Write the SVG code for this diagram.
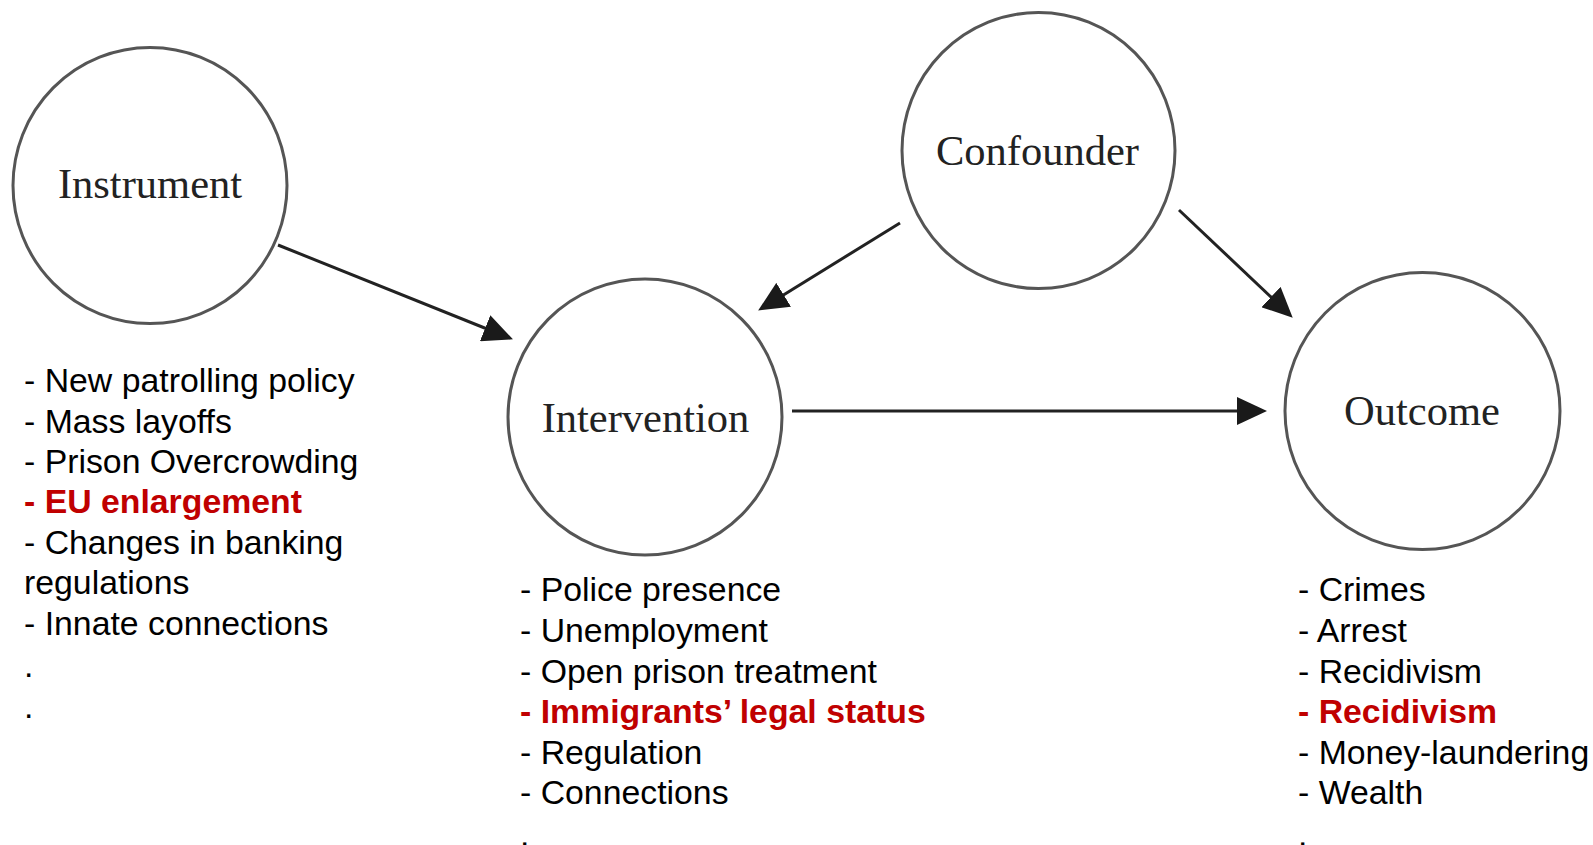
<svg xmlns="http://www.w3.org/2000/svg" width="1593" height="845" viewBox="0 0 1593 845">
<style>
.node{fill:#fff;stroke:#555;stroke-width:3}
.lbl{font-family:"Liberation Serif","Times New Roman",serif;font-size:42.5px;fill:#222;text-anchor:middle}
.edge{stroke:#222;stroke-width:3;fill:none;marker-end:url(#ah)}
.list{font-family:"Liberation Sans",Arial,sans-serif;font-size:33.8px;fill:#000}
.red{fill:#C00000;font-weight:bold}
</style>
<defs>
<marker id="ah" viewBox="0 0 30 28" refX="25" refY="14" markerWidth="30" markerHeight="28" markerUnits="userSpaceOnUse" orient="auto">
<path d="M0,0 L30,14 L0,28 z" fill="#1a1a1a"/>
</marker>
</defs>
<rect width="1593" height="845" fill="#fff"/>
<g id="connectors">
<line class="edge" x1="278" y1="245" x2="508.3" y2="337.5"/>
<line class="edge" x1="900" y1="223" x2="762.4" y2="307.9"/>
<line class="edge" x1="1179" y1="210" x2="1289.1" y2="314.2"/>
<line class="edge" x1="792" y1="411" x2="1262" y2="411"/>
</g>
<g id="instrument">
<ellipse class="node" cx="150" cy="185.5" rx="137" ry="138"/>
<text class="lbl" x="150" y="198">Instrument</text>
</g>
<g id="confounder">
<ellipse class="node" cx="1038.5" cy="150.5" rx="136.5" ry="138"/>
<text class="lbl" x="1037.5" y="165">Confounder</text>
</g>
<g id="intervention">
<ellipse class="node" cx="645" cy="417" rx="137" ry="138"/>
<text class="lbl" x="645.5" y="432">Intervention</text>
</g>
<g id="outcome">
<ellipse class="node" cx="1422.5" cy="411" rx="137.5" ry="138.5"/>
<text class="lbl" x="1422" y="425">Outcome</text>
</g>
<g id="instrument-list" class="list">
<text x="24" y="392">- New patrolling policy</text>
<text x="24" y="433">- Mass layoffs</text>
<text x="24" y="473">- Prison Overcrowding</text>
<text x="24" y="513" class="red">- EU enlargement</text>
<text x="24" y="554">- Changes in banking</text>
<text x="24" y="594">regulations</text>
<text x="24" y="635">- Innate connections</text>
<text x="24" y="677">.</text>
<text x="24" y="718">.</text>
</g>
<g id="intervention-list" class="list">
<text x="520" y="601">- Police presence</text>
<text x="520" y="642">- Unemployment</text>
<text x="520" y="683">- Open prison treatment</text>
<text x="520" y="723" class="red">- Immigrants’ legal status</text>
<text x="520" y="764">- Regulation</text>
<text x="520" y="804">- Connections</text>
<text x="520" y="846">.</text>
</g>
<g id="outcome-list" class="list">
<text x="1298" y="601">- Crimes</text>
<text x="1298" y="642">- Arrest</text>
<text x="1298" y="683">- Recidivism</text>
<text x="1298" y="723" class="red">- Recidivism</text>
<text x="1298" y="764">- Money-laundering</text>
<text x="1298" y="804">- Wealth</text>
<text x="1298" y="846">.</text>
</g>
</svg>
